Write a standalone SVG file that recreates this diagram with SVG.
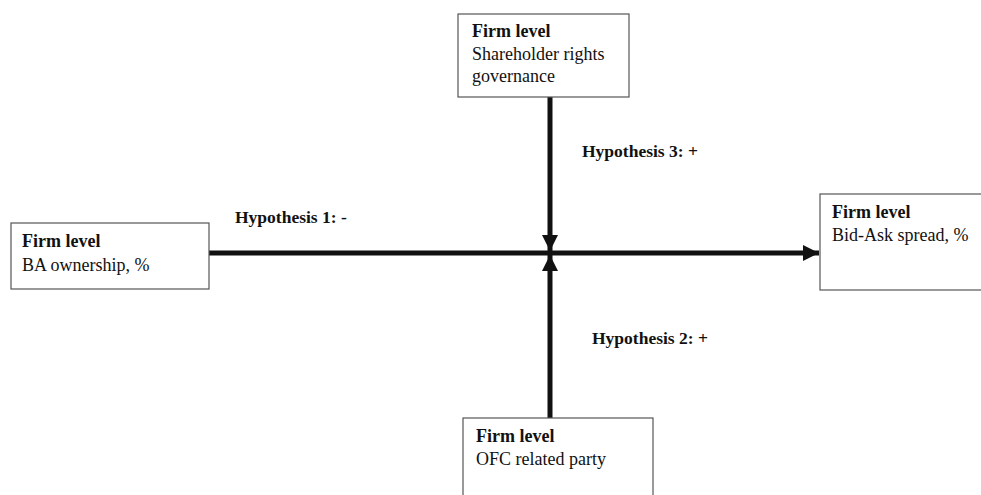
<svg xmlns="http://www.w3.org/2000/svg" width="981" height="495" viewBox="0 0 981 495">
<style>
.box{fill:#fff;stroke:#555;stroke-width:1.2}
.t{font-family:"Liberation Serif",serif;font-size:18px;fill:#111}
.b{font-weight:bold}
.lbl{font-family:"Liberation Serif",serif;font-size:17.5px;font-weight:bold;fill:#111}
.c{stroke:#111;stroke-width:5;fill:none}
</style>
<defs>
<marker id="ah" viewBox="0 0 10 10" refX="10" refY="5" markerWidth="3.4" markerHeight="3.2" orient="auto" markerUnits="strokeWidth">
<path d="M0,0 L10,5 L0,10 z" fill="#111"/>
</marker>
</defs>
<g id="connectors">
<line class="c" x1="209" y1="253" x2="819" y2="253" marker-end="url(#ah)"/>
<line class="c" x1="550" y1="97" x2="550" y2="251" marker-end="url(#ah)"/>
<line class="c" x1="550" y1="418" x2="550" y2="255" marker-end="url(#ah)"/>
<text class="lbl" x="235" y="223">Hypothesis 1: -</text>
<text class="lbl" x="582" y="157">Hypothesis 3: +</text>
<text class="lbl" x="592" y="344">Hypothesis 2: +</text>
</g>
<g id="top">
<rect class="box" x="458" y="14" width="171" height="83"/>
<text class="t b" x="472" y="37">Firm level</text>
<text class="t" x="472" y="60">Shareholder rights</text>
<text class="t" x="472" y="82">governance</text>
</g>
<g id="left">
<rect class="box" x="11" y="223" width="198" height="66"/>
<text class="t b" x="22" y="247">Firm level</text>
<text class="t" x="22" y="271">BA ownership, %</text>
</g>
<g id="right">
<rect class="box" x="820" y="194" width="170" height="96"/>
<text class="t b" x="832" y="218">Firm level</text>
<text class="t" x="832" y="241">Bid-Ask spread, %</text>
</g>
<g id="bottom">
<rect class="box" x="463" y="418" width="190" height="90"/>
<text class="t b" x="476" y="442">Firm level</text>
<text class="t" x="476" y="465">OFC related party</text>
</g>
</svg>
